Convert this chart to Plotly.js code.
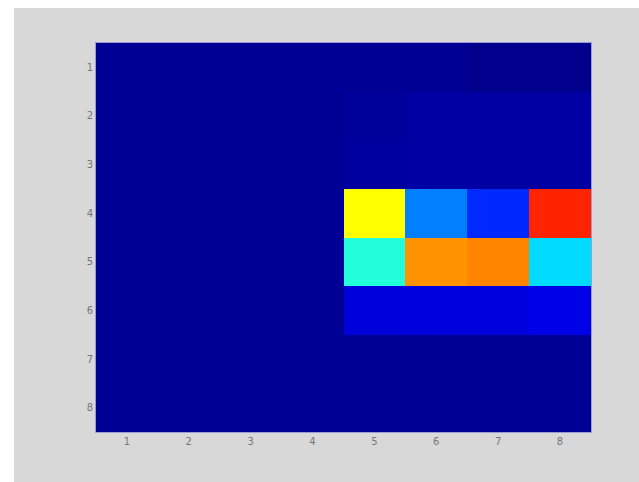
<!DOCTYPE html>
<html>
<head>
<meta charset="utf-8">
<script src="https://cdn.plot.ly/plotly-3.0.1.min.js"></script>
<style>
  html, body { margin: 0; padding: 0; background: #ffffff; width: 639px; height: 482px; overflow: hidden; }
  #chart { position: absolute; left: 14px; top: 8px; width: 625px; height: 474px; }
</style>
</head>
<body>
<div id="chart"></div>
<script>
// Column and row labels
const colLabels = [1, 2, 3, 4, 5, 6, 7, 8];
const rowLabels = [1, 2, 3, 4, 5, 6, 7, 8];

// Cell values, one array per row (row 1 at top)
const row1 = [0.01, 0.01, 0.01, 0.01, 0.01, 0.01, 0.00, 0.00];
const row2 = [0.01, 0.01, 0.01, 0.01, 0.015, 0.025, 0.025, 0.025];
const row3 = [0.01, 0.01, 0.01, 0.01, 0.02, 0.025, 0.025, 0.025];
const row4 = [0.01, 0.01, 0.01, 0.01, 0.625, 0.25, 0.165, 0.84];
const row5 = [0.01, 0.01, 0.01, 0.01, 0.41, 0.73, 0.745, 0.34];
const row6 = [0.01, 0.01, 0.01, 0.01, 0.085, 0.09, 0.09, 0.10];
const row7 = [0.01, 0.01, 0.01, 0.01, 0.01, 0.01, 0.01, 0.01];
const row8 = [0.01, 0.01, 0.01, 0.01, 0.01, 0.01, 0.01, 0.01];

const z = [row1, row2, row3, row4, row5, row6, row7, row8];

const jet = [
  [0.0, 'rgb(0,0,140)'],
  [0.125, 'rgb(0,0,255)'],
  [0.375, 'rgb(0,255,255)'],
  [0.625, 'rgb(255,255,0)'],
  [0.875, 'rgb(255,0,0)'],
  [1.0, 'rgb(128,0,0)']
];

const trace = {
  type: 'heatmap',
  x: colLabels,
  y: rowLabels,
  z: z,
  zmin: 0,
  zmax: 1,
  colorscale: jet,
  showscale: false,
  xgap: 0,
  ygap: 0
};

const axisCommon = {
  showgrid: false,
  zeroline: false,
  ticks: '',
  tickfont: { family: 'DejaVu Sans, sans-serif', size: 10, color: '#767676' },
  showline: true,
  linecolor: '#9a9ad8',
  linewidth: 1,
  mirror: true,
  tickmode: 'array'
};

const layout = {
  width: 625,
  height: 474,
  paper_bgcolor: '#d8d8d8',
  plot_bgcolor: '#00008c',
  margin: { l: 82, r: 48, t: 35, b: 50 },
  xaxis: Object.assign({}, axisCommon, {
    tickvals: colLabels,
    ticktext: colLabels.map(String),
    range: [0.5, 8.5]
  }),
  yaxis: Object.assign({}, axisCommon, {
    tickvals: rowLabels,
    ticktext: rowLabels.map(String),
    range: [8.5, 0.5]
  }),
  showlegend: false
};

Plotly.newPlot('chart', [trace], layout, { displayModeBar: false, staticPlot: true });
</script>
</body>
</html>
